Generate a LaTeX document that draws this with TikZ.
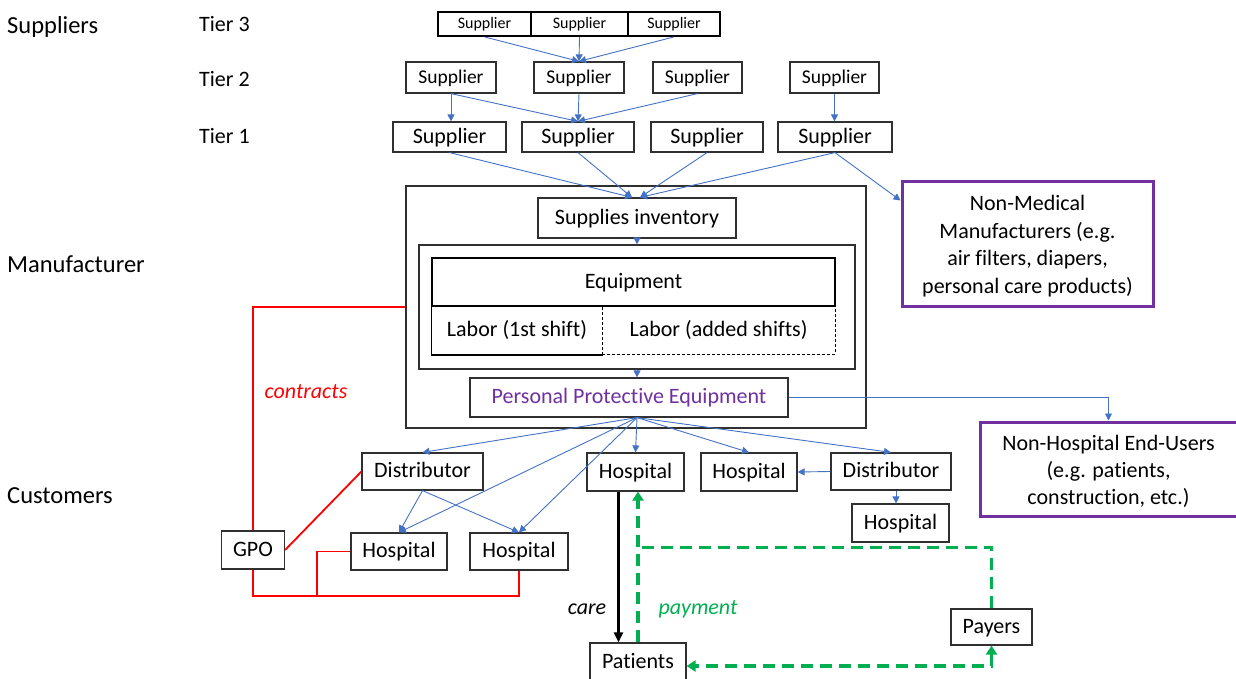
\documentclass[tikz,border=0pt]{standalone}
\usepackage{fontspec}
\setmainfont{Carlito}[Ligatures=NoCommon]
\usetikzlibrary{arrows.meta,calc}
\definecolor{oblue}{HTML}{4472C4}
\definecolor{opurple}{HTML}{7030A0}
\definecolor{ogreen}{HTML}{00B050}
\definecolor{bord}{HTML}{303030}
\definecolor{ored}{HTML}{FF0000}
\tikzset{ptip/.tip={Triangle[length=9pt,width=11pt]}}
\begin{document}
\begin{tikzpicture}[x=1pt,y=-1pt,
  sz/.style 2 args={minimum width=#1,minimum height=#2},
  f22/.style={font=\fontsize{22}{26}\selectfont, text height=16.5pt, text depth=3.8pt},
  f19/.style={font=\fontsize{19.5}{23}\selectfont, text height=14.6pt, text depth=3.3pt},
  f16/.style={font=\fontsize{16}{19}\selectfont, text height=12pt, text depth=2.7pt},
  f24/.style={font=\fontsize{24.5}{28}\selectfont, text height=18.4pt, text depth=4.2pt},
  box/.style={draw=bord, line width=1.2pt, inner sep=0pt, align=center, f22},
  thickbox/.style={box, draw=black, line width=1.8pt},
  pbox/.style={draw=opurple, line width=3pt, inner sep=0pt, align=center},
  lbl/.style={inner sep=0pt, f24},
  tier/.style={inner sep=0pt, f22},
  arr/.style={draw=oblue, line width=0.9pt, -{Triangle[length=7pt,width=7pt]}},
  con/.style={draw=ored, line width=1.8pt},
  care/.style={draw=black, line width=2.6pt, -{Triangle[length=10pt,width=9pt]}},
  pay/.style={draw=ogreen, line width=3.5pt, dash pattern=on 12pt off 7pt}
]
\useasboundingbox (0,0) rectangle (1236,679);

% left labels
\node[lbl, anchor=west] (LSup) at (7,26) {Suppliers};
\node[lbl, anchor=west] (LMan) at (7,265) {Manufacturer};
\node[lbl, anchor=west] (LCus) at (7,496) {Customers};
\node[tier, anchor=west] (Ti3) at (199,25) {Tier 3};
\node[tier, anchor=west] (Ti2) at (199,80) {Tier 2};
\node[tier, anchor=west] (Ti1) at (199,137) {Tier 1};

% Tier 3
\node[thickbox, sz={93pt}{24pt}, f16] (T3a) at (484.5,24) {Supplier};
\node[thickbox, sz={97pt}{24pt}, f16] (T3b) at (579.5,24) {Supplier};
\node[thickbox, sz={92pt}{24pt}, f16] (T3c) at (674,24) {Supplier};

% Tier 2
\node[box, sz={90pt}{31pt}, f19] (B1) at (451,77.5) {Supplier};
\node[box, sz={90pt}{31pt}, f19] (B2) at (579,77.5) {Supplier};
\node[box, sz={89pt}{31pt}, f19] (B3) at (697.5,77.5) {Supplier};
\node[box, sz={89pt}{31pt}, f19] (B4) at (834.5,77.5) {Supplier};

% Tier 1
\node[box, sz={113pt}{30pt}] (C1) at (449.5,137) {Supplier};
\node[box, sz={112pt}{30pt}] (C2) at (578,137) {Supplier};
\node[box, sz={112pt}{30pt}] (C3) at (707,137) {Supplier};
\node[box, sz={114pt}{30pt}] (C4) at (835,137) {Supplier};

% Manufacturer
\node[box, sz={460pt}{242pt}] (Mfr) at (636,307) {};
\node[box, sz={436pt}{124pt}] (Inner) at (637,307) {};
\node[box, sz={198pt}{40pt}] (SI) at (637,218) {Supplies inventory};
\node[box, draw=black, line width=0.9pt, dash pattern=on 3pt off 2pt, fill=white, sz={233pt}{48pt}] (L2) at (718.5,330) {Labor (added shifts)};
\node[box, draw=none, sz={170pt}{48pt}] (L1) at (517,330) {Labor (1st shift)};
\draw[black, line width=1.8pt] (L1.north east) -- (L1.north west) -- (L1.south west) -- (L1.south east);
\node[thickbox, sz={403pt}{48pt}] (Eq) at (633.5,282) {Equipment};
\node[box, sz={318pt}{39pt}, text=opurple] (PPE) at (629,397.5) {Personal Protective Equipment};

% Non-medical / non-hospital
\node[pbox, sz={251pt}{124pt}, font=\fontsize{22}{27.7}\selectfont, text height=104pt, text depth=5pt] (NM) at (1027.5,244) {Non-Medical\\Manufacturers (e.g.\\air filters, diapers,\\personal care products)};
\node[pbox, sz={257pt}{94pt}, font=\fontsize{22}{27}\selectfont, text height=75pt, text depth=5pt] (NH) at (1108.5,469) {Non-Hospital End-Users\\(e.g. patients,\\construction, etc.)};

% Customers
\node[box, sz={121pt}{37pt}] (D1) at (422.5,471.5) {Distributor};
\node[box, sz={96pt}{37pt}] (H1) at (399,551.5) {Hospital};
\node[box, sz={98pt}{37pt}] (H2) at (519,551.5) {Hospital};
\node[box, sz={63pt}{38pt}] (GPO) at (253,550) {GPO};
\node[box, sz={97pt}{38pt}] (H3) at (635.5,472) {Hospital};
\node[box, sz={96pt}{38pt}] (H4) at (749,472) {Hospital};
\node[box, sz={120pt}{37pt}] (D2) at (891,471.5) {Distributor};
\node[box, sz={97pt}{38pt}] (H5) at (900.5,523) {Hospital};
\node[box, sz={96pt}{38pt}] (Pat) at (638,662) {Patients};
\node[box, sz={81pt}{36pt}] (Pay) at (991.5,627) {Payers};

% supplier arrows
\draw[arr] (T3a.south) -- (B2.north);
\draw[arr] (T3b.south) -- (B2.north);
\draw[arr] (T3c.south) -- (B2.north);
\draw[arr] (B1.south) -- (B1.south |- C1.north);
\draw[arr] (B1.south) -- (C2.north);
\draw[arr] (B2.south) -- (C2.north);
\draw[arr] (B3.south) -- (C2.north);
\draw[arr] (B4.south) -- (B4.south |- C4.north);
\coordinate (si1) at ($(SI.north)+(-5,0)$);
\coordinate (si2) at ($(SI.north)+(3,0)$);
\coordinate (nmin) at ($(NM.north west)+(0,20)$);
\draw[arr] (C1.south) -- (si1);
\draw[arr] (C2.south) -- (si1);
\draw[arr] (C3.south) -- (si2);
\draw[arr] (C4.south) -- (si2);
\draw[arr] (C4.south) -- (nmin);

% manufacturer flow
\draw[arr] (SI.south) -- (SI.south |- Inner.north);
\draw[arr] (Inner.south) -- (Inner.south |- PPE.north);
\coordinate (pout) at (Inner.south |- PPE.south);
\foreach \t in {D1,H1,H2,H3,H4,D2} \draw[arr] (pout) -- (\t.north);
\draw[arr] (PPE.east) -| (NH.north);
\draw[arr] (D1.south) -- (H1.north);
\draw[arr] (D1.south) -- (H2.north);
\draw[arr] (D2.west) -- (H4.east);
\draw[arr] ([xshift=5pt]D2.south) -- ([xshift=5pt]D2.south |- H5.north);

% contracts
\draw[con] (GPO.north) |- (Mfr.west);
\draw[con] (GPO.east) -- (D1.west);
\coordinate (rb0) at ($(H2.south)+(0,25)$);
\coordinate (rb1) at (317,595);
\draw[con] (GPO.south) |- (rb0) -- (H2.south);
\draw[con] (H1.west) -| (rb1);
\node[inner sep=0pt, f22, text=ored, font=\fontsize{22}{26}\selectfont\itshape] (ctr) at (306,392) {contracts};

% care & payment
\draw[care] ([xshift=-17pt]H3.south) -- ([xshift=-17pt]H3.south |- Pat.north);
\node[inner sep=0pt, f22, font=\fontsize{22}{26}\selectfont\itshape] (carelbl) at (587,608) {care};
\node[inner sep=0pt, f22, text=ogreen, font=\fontsize{22}{26}\selectfont\itshape] (paylbl) at (698,608) {payment};
\coordinate (gj) at ($(Pat.north)+(0,-95)$);
\coordinate (patin) at ($(Pat.east)+(0,4)$);
\draw[pay, -{ptip}] (Pat.north) -- (Pat.north |- H3.south);
\draw[pay] (Pay.north) |- (gj);
\draw[pay, {ptip}-{ptip}] (Pay.south) |- (patin);
\end{tikzpicture}
\end{document}
